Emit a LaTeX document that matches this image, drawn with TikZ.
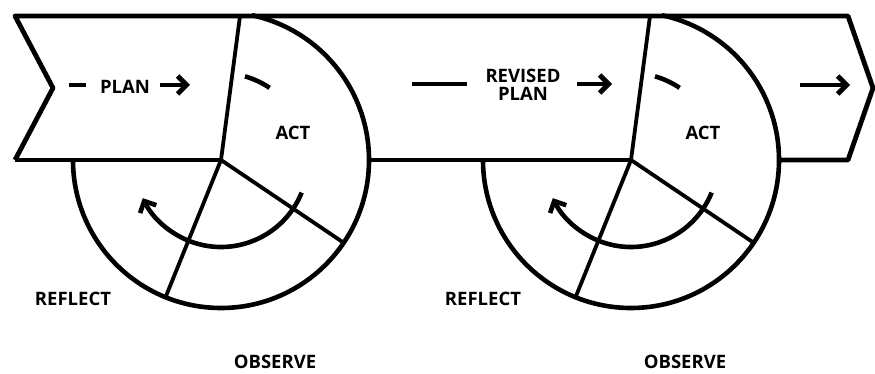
\documentclass[tikz,border=0pt]{standalone}
\usepackage{fontspec}
\setmainfont{Open Sans}
\usetikzlibrary{arrows.meta,calc}

\begin{document}
\begin{tikzpicture}[x=1pt,y=1pt,line join=round,
    band/.style={line width=4.8pt},
    spoke/.style={line width=3.8pt},
    cyc/.style={line width=4.6pt},
    tip/.style={-{Straight Barb[length=9pt,width=18pt]}},
    lbl/.style={font=\fontsize{18.5}{19}\selectfont\bfseries,align=center,inner sep=0pt}]
    \useasboundingbox (0,0) rectangle (875,374);
    % the band
    \draw[band] (15,214) -- (53,286) -- (15,358) -- (848,358) -- (873,286) -- (848,214) -- (779,214);
    \draw[band] (15,214) -- (221,214);
    \draw[band] (369,214) -- (631,214);
    % the two cycles
    \foreach \dx/\i in {0/1,410/2} {
      \coordinate (c\i) at (\dx+221,214);
      \draw[cyc] ($(c\i)+(180:148)$) arc[start angle=180,end angle=438,radius=148];
      \draw[spoke] (c\i) -- (\dx+240,358);
      \draw[spoke] (c\i) -- ++(-34:148);
      \draw[spoke] (c\i) -- ++(-112:148);
      \draw[cyc,tip] ($(c\i)+(-22:87)$) arc[start angle=-22,end angle=-154,radius=87];
      \draw[cyc] ($(c\i)+(74:87)$) arc[start angle=74,end angle=56,radius=87];
      \node[lbl] (act\i) at (\dx+293,241) {ACT};
      \node[lbl] (reflect\i) at (\dx+73,75) {REFLECT};
      \node[lbl] (observe\i) at (\dx+275,12) {OBSERVE};
    }
    % plan labels
    \node[lbl] (plan) at (125,287) {PLAN};
    \draw[band] (69,289) -- (86,289);
    \draw[band,tip] (160,289) -- (190,289);
    \node[lbl] (revised) at (523,289) {REVISED\\[-1pt]PLAN};
    \draw[band] (412,290) -- (467,290);
    \draw[band,tip] (577,290) -- (612,290);
    \draw[band,tip] (800,289) -- (850,289);
\end{tikzpicture}
\end{document}
